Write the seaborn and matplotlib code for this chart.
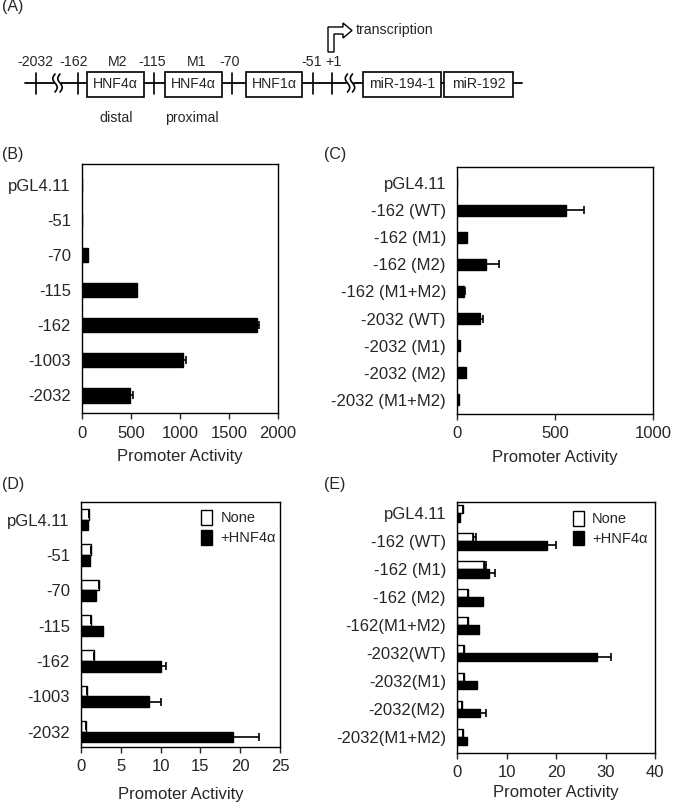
import numpy as np
import pandas as pd
import matplotlib
matplotlib.use("Agg")
import matplotlib.pyplot as plt
from matplotlib.patches import Rectangle, Polygon
import seaborn as sns

# ---------------- data ----------------
b_cats = ["pGL4.11", "-51", "-70", "-115", "-162", "-1003", "-2032"]
b_vals = [3, 5, 65, 566, 1786, 1027, 485]
b_err = [0, 0, 0, 0, 21, 31, 40]

c_cats = ["pGL4.11", "-162 (WT)", "-162 (M1)", "-162 (M2)", "-162 (M1+M2)",
          "-2032 (WT)", "-2032 (M1)", "-2032 (M2)", "-2032 (M1+M2)"]
c_vals = [0, 558, 51, 150, 34, 116, 14, 44, 10]
c_err = [0, 90, 0, 63, 6, 17, 0, 0, 0]

d_cats = ["pGL4.11", "-51", "-70", "-115", "-162", "-1003", "-2032"]
d_none = [1.05, 1.25, 2.3, 1.3, 1.6, 0.7, 0.65]
d_none_err = [0, 0, 0, 0, 0, 0, 0]
d_hnf = [0.85, 1.1, 1.9, 2.7, 10.0, 8.6, 19.1]
d_hnf_err = [0, 0, 0, 0, 0.7, 1.45, 3.3]

e_cats = ["pGL4.11", "-162 (WT)", "-162 (M1)", "-162 (M2)", "-162(M1+M2)",
          "-2032(WT)", "-2032(M1)", "-2032(M2)", "-2032(M1+M2)"]
e_none = [1.2, 3.2, 5.4, 2.3, 2.3, 1.4, 1.4, 1.1, 1.3]
e_none_err = [0, 0.7, 0.5, 0, 0, 0, 0, 0, 0]
e_hnf = [0.55, 18.2, 6.4, 5.3, 4.4, 28.2, 4.0, 4.7, 2.1]
e_hnf_err = [0, 1.8, 1.2, 0, 0, 3.0, 0, 1.2, 0]

groups = ["None", "+HNF4\u03b1"]

# diagram labels
diag_pos_labels = ["-2032", "-162", "-115", "-70", "-51", "+1"]
diag_boxes = ["HNF4\u03b1", "HNF4\u03b1", "HNF1\u03b1", "miR-194-1", "miR-192"]
diag_top = ["M2", "M1"]
diag_bottom = ["distal", "proximal"]

# ---------------- style ----------------
sns.set_style("ticks")
plt.rcParams["font.family"] = ["Liberation Sans", "DejaVu Sans"]
plt.rcParams["axes.linewidth"] = 1.0
FS = 12
FSD = 10.2

fig = plt.figure(figsize=(6.93, 8.02), dpi=100)

# overlay axes in pixel coords for panel A + panel letters
ov = fig.add_axes([0, 0, 1, 1])
ov.set_xlim(0, 693)
ov.set_ylim(802, 0)
ov.axis("off")
ov.patch.set_visible(False)

LY = 83
ov.plot([25, 54], [LY, LY], color="black", lw=1.3)
ov.plot([61, 346], [LY, LY], color="black", lw=1.3)
ov.plot([354, 522], [LY, LY], color="black", lw=1.3)
t = np.linspace(-1, 1, 30)
for x0 in (57.5, 350):
    for dx in (-2.5, 2.5):
        ov.plot(x0 + dx + 2.2 * np.sin(np.pi * t), LY + 9 * t, color="black", lw=1.2)
for tx in (36, 78, 154, 232, 313, 332):
    ov.plot([tx, tx], [73, 94], color="black", lw=1.2)
box_x = [(87, 144), (165, 222), (246, 302), (363, 441), (444, 513)]
for (x1, x2), lab in zip(box_x, diag_boxes):
    ov.add_patch(Rectangle((x1, 72), x2 - x1, 25, facecolor="white",
                           edgecolor="black", lw=1.2, zorder=3))
    ov.text((x1 + x2) / 2, 84.5, lab, ha="center", va="center", fontsize=FSD, zorder=4)
for lab, px in zip(diag_pos_labels, [35, 74, 152, 230, 312, 333]):
    ov.text(px, 62, lab, ha="center", va="center", fontsize=FSD)
for lab, px in zip(diag_top, [118, 197]):
    ov.text(px, 62, lab, ha="center", va="center", fontsize=FSD)
for lab, px in zip(diag_bottom, [116, 192]):
    ov.text(px, 118, lab, ha="center", va="center", fontsize=FSD)
ov.add_patch(Polygon([(328, 52), (328, 27), (343, 27), (343, 23), (352, 30.5),
                      (343, 38), (343, 34), (334, 34), (334, 52)],
                     closed=True, facecolor="white", edgecolor="black", lw=1.0))
ov.text(356, 30, "transcription", ha="left", va="center", fontsize=FSD)

for lab, (px, py) in zip(["(A)", "(B)", "(C)", "(D)", "(E)"],
                         [(2, 6), (2, 155), (324, 155), (2, 485), (324, 485)]):
    ov.text(px, py, lab, ha="left", va="center", fontsize=11.5)


def style_axes(ax, xlim, xticks, ylim, labelpad=6):
    ax.set_xlim(*xlim)
    ax.set_xticks(xticks)
    ax.set_ylim(*ylim)
    for s in ax.spines.values():
        s.set_visible(True)
        s.set_color("black")
        s.set_linewidth(1.0)
    ax.tick_params(axis="y", length=0, labelsize=FS, pad=8)
    ax.tick_params(axis="x", length=4, width=1, direction="out", labelsize=FS, pad=5)
    ax.set_xlabel("Promoter Activity", fontsize=FS, labelpad=labelpad)
    ax.set_ylabel("")


def add_err(ax, patches, vals, errs):
    ys = [p.get_y() + p.get_height() / 2 for p in patches]
    lower = np.zeros(len(vals))
    ax.errorbar(vals, ys, xerr=[lower, errs], fmt="none", ecolor="black",
                elinewidth=1.2, capsize=3, capthick=1.2, zorder=5)


# ---------------- panel B ----------------
axB = fig.add_axes([0.1183, 0.485, 0.2829, 0.3105])
dfB = pd.DataFrame({"cat": b_cats, "val": b_vals})
sns.barplot(data=dfB, y="cat", x="val", order=b_cats, color="black",
            width=0.4, errorbar=None, ax=axB, saturation=1, edgecolor="black")
add_err(axB, axB.patches, b_vals, b_err)
style_axes(axB, (0, 2000), [0, 500, 1000, 1500, 2000], (6.5, -0.6))

# ---------------- panel C ----------------
axC = fig.add_axes([0.6595, 0.4838, 0.2828, 0.308])
dfC = pd.DataFrame({"cat": c_cats, "val": c_vals})
sns.barplot(data=dfC, y="cat", x="val", order=c_cats, color="black",
            width=0.4, errorbar=None, ax=axC, saturation=1, edgecolor="black")
add_err(axC, axC.patches, c_vals, c_err)
style_axes(axC, (0, 1000), [0, 500, 1000], (8.52, -0.59))


def grouped(ax, cats, none, none_err, hnf, hnf_err, anchor):
    df = pd.DataFrame({
        "cat": cats + cats,
        "grp": [groups[0]] * len(cats) + [groups[1]] * len(cats),
        "val": none + hnf,
    })
    sns.barplot(data=df, y="cat", x="val", hue="grp", order=cats,
                hue_order=groups, palette={groups[0]: "white", groups[1]: "black"},
                width=0.6, errorbar=None, ax=ax, saturation=1,
                edgecolor="black", linewidth=1.0)
    n = len(cats)
    bars = [p for p in ax.patches if p.get_height() > 0][: 2 * n]
    add_err(ax, bars[:n], none, none_err)
    add_err(ax, bars[n:], hnf, hnf_err)
    ax.legend(loc="upper left", bbox_to_anchor=anchor, frameon=False,
              fontsize=10.5, handlelength=0.75, handleheight=1.2,
              handletextpad=0.55, labelspacing=0.3, borderaxespad=0.0,
              borderpad=0.0)


# ---------------- panel D ----------------
axD = fig.add_axes([0.1169, 0.0686, 0.2872, 0.3055])
grouped(axD, d_cats, d_none, d_none_err, d_hnf, d_hnf_err, (0.605, 0.968))
style_axes(axD, (0, 25), [0, 5, 10, 15, 20, 25], (6.43, -0.5), labelpad=9)

# ---------------- panel E ----------------
axE = fig.add_axes([0.6595, 0.0611, 0.2857, 0.313])
grouped(axE, e_cats, e_none, e_none_err, e_hnf, e_hnf_err, (0.585, 0.965))
style_axes(axE, (0, 40), [0, 10, 20, 30, 40], (8.57, -0.4), labelpad=3)

fig.savefig("out.png", dpi=100)
